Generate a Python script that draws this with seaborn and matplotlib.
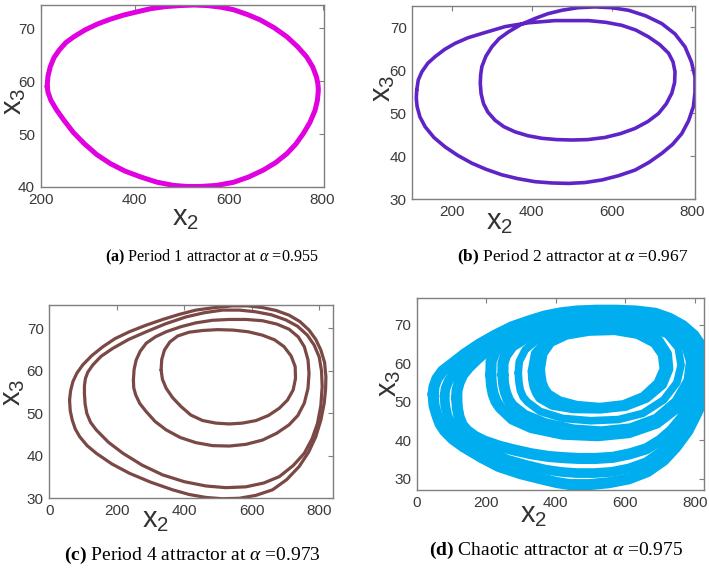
import matplotlib
matplotlib.use("Agg")
import matplotlib.pyplot as plt
import seaborn as sns

# (a) period-1 orbit (x2, x3)
A_X = [214, 216, 221, 229, 240, 254, 271, 295, 321, 348, 377, 405, 434, 466, 498, 526,
       554, 583, 611, 640, 667, 697, 724, 747, 766, 779, 787, 790, 791, 789, 784, 773,
       759, 743, 724, 700, 674, 643, 611, 575, 540, 511, 483, 448, 413, 380, 349, 320,
       293, 270, 250, 234, 222, 216]
A_Y = [59.0, 61.0, 62.8, 64.5, 65.9, 67.3, 68.4, 69.7, 70.8, 71.7, 72.5, 73.1, 73.7, 74.1,
       74.3, 74.4, 74.3, 74.0, 73.5, 72.6, 71.6, 70.1, 68.4, 66.5, 64.6, 62.7, 60.8, 59.5,
       58.3, 56.4, 54.5, 52.2, 50.1, 48.1, 46.3, 44.6, 43.2, 41.9, 40.9, 40.3, 40.1, 40.1,
       40.3, 40.9, 41.9, 43.0, 44.4, 46.1, 48.2, 50.3, 52.6, 54.6, 56.4, 57.9]

# (b) period-2 orbit, one pass through both loops
B_X = [112, 116, 125, 140, 158, 182, 208, 240, 275, 333, 392, 458, 542, 585, 625, 660,
       692, 720, 742, 753, 758, 757, 750, 736, 717, 690, 658, 622, 583, 540, 500, 462,
       425, 390, 358, 330, 308, 290, 279, 273, 271, 272, 275, 285, 300, 318, 342, 373,
       408, 440, 475, 515, 558, 600, 642, 685, 725, 758, 783, 799, 808, 808, 804, 792,
       775, 752, 725, 693, 658, 617, 575, 533, 492, 450, 408, 365, 325, 285, 250, 215,
       183, 155, 133, 120, 113, 111]
B_Y = [55.4, 57.8, 59.7, 61.7, 63.2, 64.9, 66.3, 67.6, 68.6, 70.2, 71.1, 71.6, 71.6, 71.2,
       70.5, 69.4, 67.8, 66.0, 64.0, 62.0, 59.7, 57.2, 54.7, 52.2, 50.0, 48.1, 46.5, 45.3,
       44.4, 43.9, 43.8, 43.9, 44.2, 44.8, 45.7, 46.9, 48.4, 50.3, 52.3, 54.6, 57.0, 59.0,
       60.9, 63.3, 65.5, 67.4, 69.0, 70.7, 72.1, 73.2, 74.0, 74.6, 74.8, 74.6, 74.0, 72.7,
       70.9, 68.5, 65.5, 62.0, 58.5, 55.0, 51.6, 48.3, 45.3, 42.8, 40.7, 38.6, 36.8, 35.5,
       34.5, 33.9, 33.7, 33.8, 34.1, 34.8, 35.7, 37.0, 38.4, 40.2, 42.2, 44.4, 46.9, 49.2,
       51.6, 53.5]

# (c) period-4 orbit, drawn loop by loop
C1_X = [60, 62, 68, 77, 90, 112, 139, 185, 237, 300, 365, 414, 464, 512, 562, 612, 661,
        703, 740, 768, 789, 804, 814, 818, 819, 815, 804, 789, 769, 742, 710, 672, 631,
        588, 543, 490, 434, 385, 336, 285, 237, 195, 159, 126, 99, 82, 70, 63]
C1_Y = [53.1, 50.6, 48.4, 46.3, 44.5, 42.4, 40.6, 38.1, 35.9, 33.8, 32.0, 30.9, 30.2, 29.9,
        30.0, 30.7, 32.0, 34.4, 37.5, 40.9, 44.5, 48.4, 52.4, 55.6, 58.6, 62.0, 64.9, 67.4,
        69.6, 71.6, 73.1, 74.2, 74.9, 75.3, 75.3, 74.9, 74.3, 73.3, 72.1, 70.7, 69.2, 67.6,
        65.7, 63.6, 61.4, 59.5, 57.5, 55.3]
C2_X = [104, 106, 111, 122, 139, 175, 218, 275, 336, 400, 464, 523, 582, 635, 681, 722,
        755, 778, 794, 804, 808, 806, 799, 784, 764, 735, 700, 657, 611, 563, 513, 460,
        405, 345, 287, 235, 188, 153, 129, 114, 107, 104]
C2_Y = [54.7, 52.2, 50.0, 47.9, 46.1, 43.2, 40.6, 37.8, 35.5, 33.9, 32.9, 32.5, 32.7, 33.6,
        35.1, 37.7, 40.6, 44.0, 47.6, 51.8, 56.3, 60.0, 63.3, 66.1, 68.4, 70.5, 72.0, 73.2,
        73.9, 74.3, 74.3, 73.7, 72.7, 71.1, 69.2, 67.4, 65.3, 63.4, 61.4, 59.7, 58.2, 56.5]
C3_X = [249, 251, 257, 269, 287, 314, 346, 390, 434, 483, 533, 582, 631, 674, 710, 737,
        755, 766, 769, 766, 755, 736, 710, 673, 631, 582, 533, 483, 434, 388, 346, 313,
        287, 268, 256, 250]
C3_Y = [57.8, 60.3, 62.5, 64.6, 66.5, 68.0, 69.2, 70.4, 71.3, 71.9, 72.1, 72.1, 71.8, 71.0,
        69.8, 68.0, 65.7, 62.6, 59.4, 55.9, 52.4, 49.5, 47.3, 45.3, 43.7, 42.7, 42.3, 42.4,
        43.1, 44.3, 46.1, 48.1, 50.4, 52.3, 54.3, 56.0]
C4_X = [331, 333, 341, 357, 380, 414, 454, 498, 543, 589, 631, 667, 695, 716, 728, 729,
        722, 705, 681, 649, 612, 572, 533, 493, 454, 419, 390, 365, 346, 335]
C4_Y = [60.2, 62.7, 64.9, 66.8, 68.2, 69.1, 69.5, 69.7, 69.6, 69.2, 68.4, 67.3, 65.7, 63.5,
        61.0, 58.2, 55.5, 53.1, 51.2, 49.5, 48.3, 47.7, 47.5, 47.7, 48.3, 49.6, 51.6, 53.7,
        55.9, 58.0]

# (d) chaotic band, traced as its strands (outer band O, middle M, inner N)
O1_X = [47, 50, 58, 67, 80, 104, 135, 185, 236, 300, 367, 405, 441, 497, 553, 610, 664,
        710, 745, 780, 805, 828, 840, 835, 822, 797, 765, 727, 686, 630, 573, 517, 460,
        413, 368, 322, 274, 227, 180, 137, 100, 74, 58, 50]
O1_Y = [52.0, 49.0, 46.5, 44.3, 42.5, 40.3, 38.3, 35.6, 33.2, 31.3, 29.8, 29.0, 28.5, 28.5,
        29.0, 30.0, 31.9, 34.8, 38.2, 42.5, 47.0, 51.5, 56.0, 60.5, 64.0, 67.3, 69.8, 71.7,
        73.0, 73.6, 73.8, 73.8, 73.6, 73.1, 72.3, 71.0, 69.5, 67.4, 65.0, 62.4, 59.8, 58.0,
        56.0, 54.0]
O2_X = [80, 82, 88, 99, 115, 140, 170, 215, 260, 315, 370, 415, 460, 510, 560, 610, 660,
        702, 738, 768, 795, 815, 826, 822, 812, 790, 760, 725, 683, 628, 573, 517, 462,
        417, 372, 327, 282, 238, 195, 160, 130, 106, 92, 83]
O2_Y = [51.5, 49.0, 46.5, 44.3, 42.5, 40.6, 39.0, 37.0, 35.0, 33.6, 32.4, 31.8, 31.5, 31.5,
        31.8, 32.7, 34.3, 37.0, 40.2, 44.0, 48.0, 52.0, 56.0, 60.0, 63.5, 66.5, 69.0, 70.9,
        72.3, 73.0, 73.2, 73.2, 72.9, 72.3, 71.4, 70.1, 68.6, 66.6, 64.2, 61.9, 59.5, 57.4,
        55.5, 53.5]
O3_X = [115, 117, 122, 131, 145, 168, 195, 237, 280, 330, 380, 422, 465, 515, 565, 613,
        660, 700, 732, 760, 785, 801, 812, 808, 798, 778, 752, 718, 680, 626, 573, 519,
        465, 420, 375, 331, 288, 246, 205, 175, 150, 132, 122, 116]
O3_Y = [51.0, 48.3, 46.0, 44.0, 42.5, 41.0, 39.8, 38.5, 37.5, 36.5, 35.8, 35.5, 35.3, 35.3,
        35.6, 36.5, 37.8, 40.0, 42.5, 45.5, 49.0, 52.7, 56.5, 60.2, 63.5, 66.2, 68.5, 70.2,
        71.5, 72.2, 72.4, 72.4, 72.1, 71.5, 70.6, 69.4, 67.9, 65.8, 63.5, 61.2, 59.0, 57.0,
        55.0, 53.0]
M1_X = [213, 215, 220, 228, 240, 275, 330, 420, 520, 610, 690, 755, 792, 800, 785, 740,
        670, 570, 470, 380, 300, 250, 225, 214]
M1_Y = [57.0, 54.3, 52.0, 50.1, 48.5, 45.5, 43.3, 41.6, 41.2, 42.0, 44.5, 49.0, 55.0, 60.0,
        65.0, 69.0, 71.0, 71.5, 71.2, 70.0, 68.0, 65.6, 63.0, 60.5]
M2_X = [248, 250, 255, 263, 275, 310, 370, 450, 530, 615, 690, 748, 783, 790, 775, 732,
        665, 570, 475, 390, 320, 275, 255, 248]
M2_Y = [57.0, 54.6, 52.5, 50.6, 49.0, 46.5, 44.3, 42.7, 42.2, 43.0, 45.5, 50.0, 55.5, 60.5,
        65.0, 68.6, 70.4, 71.0, 70.7, 69.4, 67.0, 64.5, 62.0, 60.0]
M3_X = [292, 294, 298, 306, 318, 355, 420, 500, 580, 650, 710, 748, 760, 752, 720, 660,
        580, 490, 410, 350, 312, 295]
M3_Y = [57.5, 55.1, 53.0, 51.3, 50.0, 47.5, 45.7, 45.1, 45.4, 47.0, 50.5, 55.0, 59.5, 64.0,
        67.5, 69.4, 70.1, 69.9, 68.8, 66.5, 63.5, 60.5]
N1_X = [333, 334, 338, 345, 355, 390, 450, 527, 600, 660, 706, 724, 720, 695, 640, 570,
        490, 420, 370, 342]
N1_Y = [58.0, 55.9, 54.0, 52.4, 51.0, 49.2, 48.3, 48.2, 48.9, 51.0, 54.5, 58.5, 62.5, 66.0,
        68.3, 69.0, 68.9, 67.8, 65.5, 62.5]
N2_X = [355, 357, 360, 367, 378, 410, 460, 527, 595, 652, 694, 712, 707, 684, 635, 570,
        495, 430, 385, 362]
N2_Y = [58.5, 56.7, 55.0, 53.4, 52.0, 50.2, 49.0, 48.5, 49.2, 51.3, 54.8, 58.5, 62.3, 65.3,
        67.6, 68.6, 68.4, 67.4, 65.5, 62.5]

X_TICKS_A = [200, 400, 600, 800]
X_TICKS = [0, 200, 400, 600, 800]
Y_TICKS_A = [40, 50, 60, 70]
Y_TICKS = [30, 40, 50, 60, 70]

CAPTIONS = [
    (r"$\mathbf{(a)}$ Period 1 attractor at $\alpha$ =0.955", 212, 257, 11.6),
    (r"$\mathbf{(b)}$ Period 2 attractor at $\alpha$ =0.967", 573, 257, 12.5),
    (r"$\mathbf{(c)}$ Period 4 attractor at $\alpha$ =0.973", 192, 555, 14),
    (r"$\mathbf{(d)}$ Chaotic attractor at $\alpha$ =0.975", 556, 550, 14),
]

sns.set_theme(style="white")
plt.rcParams["font.family"] = ["Liberation Sans", "DejaVu Sans"]
plt.rcParams["mathtext.fontset"] = "custom"
plt.rcParams["mathtext.rm"] = "Liberation Serif"
plt.rcParams["mathtext.it"] = "Liberation Serif:italic"
plt.rcParams["mathtext.bf"] = "Liberation Serif:bold"

W, H = 709, 570
fig = plt.figure(figsize=(W / 100, H / 100), dpi=100)


def make_axes(left, right, top, bottom):
    # pixel box of the panel -> figure fractions
    return fig.add_axes([left / W, 1 - bottom / H, (right - left) / W, (bottom - top) / H])


def draw_loop(ax, xs, ys, color, lw):
    sns.lineplot(x=xs + xs[:1], y=ys + ys[:1], sort=False, estimator=None,
                 color=color, lw=lw, ax=ax, solid_joinstyle="round",
                 solid_capstyle="round")


def style_panel(ax, xlim, ylim, xticks, yticks, xlab, ylab):
    ax.set_xlim(*xlim)
    ax.set_ylim(*ylim)
    ax.set_xticks(xticks)
    ax.set_yticks(yticks)
    ax.tick_params(direction="in", length=3.5, width=0.8, color="#808080",
                   top=True, right=True, labelsize=11, labelcolor="#3a3a3a", pad=4)
    for s in ax.spines.values():
        s.set_color("#7f7f7f")
        s.set_linewidth(1.0)
    ax.set_xlabel(r"$\mathregular{x_2}$", fontsize=21, color="#333333")
    ax.set_ylabel(r"$\mathregular{x_3}$", fontsize=21, color="#333333")
    ax.xaxis.set_label_coords(*xlab)
    ax.yaxis.set_label_coords(*ylab)


ax_a = make_axes(40.5, 324, 5, 187)
draw_loop(ax_a, A_X, A_Y, "#E000E0", 3.6)
style_panel(ax_a, (200, 803), (40, 74.4), X_TICKS_A, Y_TICKS_A, (0.513, -0.095), (-0.045, 0.47))

ax_b = make_axes(412.3, 695, 6, 199.3)
draw_loop(ax_b, B_X, B_Y, "#5E24C8", 2.6)
style_panel(ax_b, (101, 808), (30, 75), X_TICKS_A, Y_TICKS, (0.31, -0.045), (-0.054, 0.576))

ax_c = make_axes(49.3, 333, 305, 498.3)
for xs, ys in [(C1_X, C1_Y), (C2_X, C2_Y), (C3_X, C3_Y), (C4_X, C4_Y)]:
    draw_loop(ax_c, xs, ys, "#7A4845", 2.3)
style_panel(ax_c, (0, 840), (30, 75.5), X_TICKS, Y_TICKS, (0.376, -0.04), (-0.078, 0.55))

ax_d = make_axes(416.7, 704, 298.3, 490)
strands = [(O1_X, O1_Y, 8), (O2_X, O2_Y, 7), (O3_X, O3_Y, 8), (M1_X, M1_Y, 8),
           (M2_X, M2_Y, 8), (M3_X, M3_Y, 5.5), (N1_X, N1_Y, 7), (N2_X, N2_Y, 7)]
for xs, ys, lw in strands:
    draw_loop(ax_d, xs, ys, "#00AEEF", lw)
style_panel(ax_d, (0, 826), (27.1, 76.9), X_TICKS, Y_TICKS, (0.405, -0.055), (-0.048, 0.558))

for text, cx, cy, size in CAPTIONS:
    fig.text(cx / W, 1 - cy / H, text, ha="center", va="center", fontsize=size,
             family="Liberation Serif", color="black")

fig.savefig("out.png", dpi=100)
